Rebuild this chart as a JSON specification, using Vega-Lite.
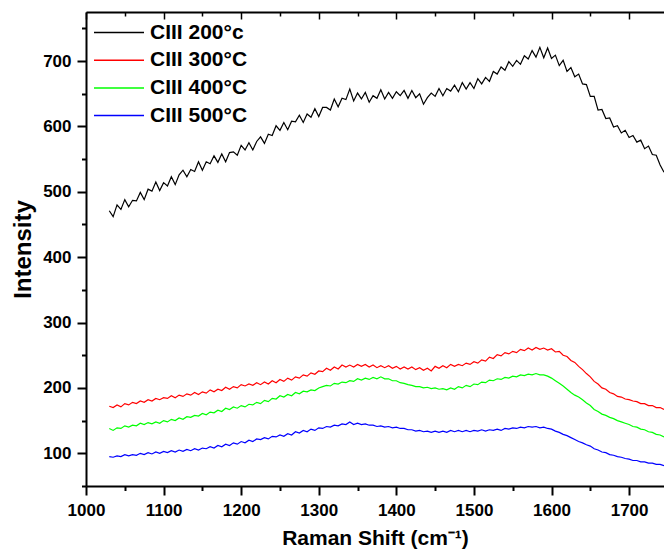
{
  "$schema": "https://vega.github.io/schema/vega-lite/v6.json",
  "width": 578,
  "height": 474,
  "autosize": "none",
  "padding": {"left": 86, "top": 12, "right": 0, "bottom": 65},
  "background": "white",
  "config": {"view": {"stroke": null}, "font": "Liberation Sans"},
  "data": {"values": [
    {"x":1030,"s200":471,"s300":172,"s400":138,"s500":95},
    {"x":1035,"s200":462,"s300":170,"s400":135,"s500":94},
    {"x":1040,"s200":480,"s300":174,"s400":139,"s500":96},
    {"x":1045,"s200":473,"s300":171,"s400":138,"s500":95},
    {"x":1050,"s200":488,"s300":176,"s400":142,"s500":98},
    {"x":1055,"s200":477,"s300":174,"s400":140,"s500":96},
    {"x":1060,"s200":487,"s300":178,"s400":143,"s500":98},
    {"x":1065,"s200":486,"s300":176,"s400":142,"s500":97},
    {"x":1070,"s200":499,"s300":180,"s400":146,"s500":100},
    {"x":1075,"s200":488,"s300":178,"s400":144,"s500":98},
    {"x":1080,"s200":504,"s300":182,"s400":147,"s500":101},
    {"x":1085,"s200":501,"s300":180,"s400":145,"s500":99},
    {"x":1090,"s200":515,"s300":184,"s400":148,"s500":102},
    {"x":1095,"s200":502,"s300":182,"s400":146,"s500":100},
    {"x":1100,"s200":514,"s300":185,"s400":150,"s500":103},
    {"x":1105,"s200":509,"s300":184,"s400":148,"s500":101},
    {"x":1110,"s200":523,"s300":188,"s400":152,"s500":104},
    {"x":1115,"s200":511,"s300":185,"s400":150,"s500":102},
    {"x":1120,"s200":526,"s300":189,"s400":154,"s500":105},
    {"x":1125,"s200":533,"s300":187,"s400":152,"s500":103},
    {"x":1130,"s200":523,"s300":191,"s400":156,"s500":106},
    {"x":1135,"s200":534,"s300":189,"s400":155,"s500":104},
    {"x":1140,"s200":531,"s300":193,"s400":158,"s500":107},
    {"x":1145,"s200":546,"s300":190,"s400":157,"s500":105},
    {"x":1150,"s200":533,"s300":194,"s400":161,"s500":108},
    {"x":1155,"s200":546,"s300":192,"s400":159,"s500":107},
    {"x":1160,"s200":543,"s300":197,"s400":163,"s500":110},
    {"x":1165,"s200":555,"s300":194,"s400":162,"s500":108},
    {"x":1170,"s200":545,"s300":198,"s400":166,"s500":112},
    {"x":1175,"s200":558,"s300":196,"s400":164,"s500":110},
    {"x":1180,"s200":546,"s300":201,"s400":169,"s500":114},
    {"x":1185,"s200":560,"s300":198,"s400":167,"s500":112},
    {"x":1190,"s200":561,"s300":202,"s400":171,"s500":116},
    {"x":1195,"s200":556,"s300":200,"s400":169,"s500":114},
    {"x":1200,"s200":571,"s300":205,"s400":173,"s500":118},
    {"x":1205,"s200":564,"s300":203,"s400":171,"s500":116},
    {"x":1210,"s200":575,"s300":206,"s400":175,"s500":120},
    {"x":1215,"s200":564,"s300":204,"s400":174,"s500":118},
    {"x":1220,"s200":577,"s300":208,"s400":178,"s500":122},
    {"x":1225,"s200":584,"s300":205,"s400":176,"s500":121},
    {"x":1230,"s200":574,"s300":209,"s400":181,"s500":124},
    {"x":1235,"s200":588,"s300":206,"s400":179,"s500":122},
    {"x":1240,"s200":586,"s300":211,"s400":184,"s500":126},
    {"x":1245,"s200":601,"s300":208,"s400":183,"s500":125},
    {"x":1250,"s200":594,"s300":213,"s400":188,"s500":128},
    {"x":1255,"s200":606,"s300":210,"s400":186,"s500":126},
    {"x":1260,"s200":595,"s300":215,"s400":190,"s500":130},
    {"x":1265,"s200":608,"s300":212,"s400":188,"s500":128},
    {"x":1270,"s200":607,"s300":217,"s400":193,"s500":133},
    {"x":1275,"s200":617,"s300":215,"s400":191,"s500":131},
    {"x":1280,"s200":606,"s300":220,"s400":195,"s500":135},
    {"x":1285,"s200":619,"s300":218,"s400":194,"s500":133},
    {"x":1290,"s200":614,"s300":223,"s400":197,"s500":137},
    {"x":1295,"s200":627,"s300":221,"s400":196,"s500":135},
    {"x":1300,"s200":615,"s300":226,"s400":200,"s500":139},
    {"x":1305,"s200":629,"s300":225,"s400":202,"s500":138},
    {"x":1310,"s200":629,"s300":230,"s400":204,"s500":141},
    {"x":1315,"s200":625,"s300":227,"s400":203,"s500":140},
    {"x":1320,"s200":642,"s300":232,"s400":207,"s500":143},
    {"x":1325,"s200":630,"s300":229,"s400":206,"s500":142},
    {"x":1330,"s200":643,"s300":235,"s400":209,"s500":145},
    {"x":1335,"s200":641,"s300":232,"s400":208,"s500":144},
    {"x":1340,"s200":657,"s300":235,"s400":211,"s500":148},
    {"x":1345,"s200":639,"s300":232,"s400":210,"s500":144},
    {"x":1350,"s200":651,"s300":236,"s400":214,"s500":146},
    {"x":1355,"s200":642,"s300":233,"s400":212,"s500":144},
    {"x":1360,"s200":652,"s300":236,"s400":215,"s500":145},
    {"x":1365,"s200":637,"s300":232,"s400":213,"s500":143},
    {"x":1370,"s200":647,"s300":235,"s400":216,"s500":143},
    {"x":1375,"s200":643,"s300":231,"s400":214,"s500":141},
    {"x":1380,"s200":656,"s300":234,"s400":217,"s500":142},
    {"x":1385,"s200":642,"s300":231,"s400":214,"s500":140},
    {"x":1390,"s200":652,"s300":234,"s400":214,"s500":141},
    {"x":1395,"s200":643,"s300":230,"s400":211,"s500":139},
    {"x":1400,"s200":653,"s300":233,"s400":211,"s500":140},
    {"x":1405,"s200":647,"s300":229,"s400":208,"s500":138},
    {"x":1410,"s200":655,"s300":232,"s400":207,"s500":138},
    {"x":1415,"s200":643,"s300":229,"s400":205,"s500":136},
    {"x":1420,"s200":655,"s300":232,"s400":204,"s500":136},
    {"x":1425,"s200":644,"s300":228,"s400":202,"s500":134},
    {"x":1430,"s200":650,"s300":231,"s400":202,"s500":135},
    {"x":1435,"s200":634,"s300":227,"s400":200,"s500":133},
    {"x":1440,"s200":644,"s300":230,"s400":201,"s500":134},
    {"x":1445,"s200":651,"s300":226,"s400":199,"s500":132},
    {"x":1450,"s200":646,"s300":233,"s400":200,"s500":134},
    {"x":1455,"s200":658,"s300":230,"s400":198,"s500":132},
    {"x":1460,"s200":647,"s300":234,"s400":199,"s500":134},
    {"x":1465,"s200":658,"s300":231,"s400":197,"s500":132},
    {"x":1470,"s200":654,"s300":236,"s400":200,"s500":135},
    {"x":1475,"s200":663,"s300":233,"s400":198,"s500":133},
    {"x":1480,"s200":653,"s300":236,"s400":202,"s500":135},
    {"x":1485,"s200":667,"s300":234,"s400":200,"s500":133},
    {"x":1490,"s200":657,"s300":238,"s400":204,"s500":135},
    {"x":1495,"s200":667,"s300":236,"s400":202,"s500":133},
    {"x":1500,"s200":658,"s300":240,"s400":206,"s500":135},
    {"x":1505,"s200":673,"s300":238,"s400":205,"s500":134},
    {"x":1510,"s200":665,"s300":243,"s400":209,"s500":136},
    {"x":1515,"s200":675,"s300":241,"s400":208,"s500":134},
    {"x":1520,"s200":669,"s300":247,"s400":212,"s500":136},
    {"x":1525,"s200":684,"s300":245,"s400":211,"s500":135},
    {"x":1530,"s200":680,"s300":251,"s400":214,"s500":137},
    {"x":1535,"s200":691,"s300":249,"s400":213,"s500":135},
    {"x":1540,"s200":686,"s300":254,"s400":216,"s500":138},
    {"x":1545,"s200":699,"s300":252,"s400":215,"s500":137},
    {"x":1550,"s200":692,"s300":256,"s400":218,"s500":139},
    {"x":1555,"s200":701,"s300":254,"s400":217,"s500":138},
    {"x":1560,"s200":695,"s300":259,"s400":220,"s500":140},
    {"x":1565,"s200":708,"s300":257,"s400":219,"s500":139},
    {"x":1570,"s200":703,"s300":261,"s400":221,"s500":141},
    {"x":1575,"s200":716,"s300":258,"s400":220,"s500":140},
    {"x":1580,"s200":706,"s300":262,"s400":222,"s500":141},
    {"x":1585,"s200":721,"s300":259,"s400":220,"s500":139},
    {"x":1590,"s200":705,"s300":261,"s400":220,"s500":140},
    {"x":1595,"s200":720,"s300":258,"s400":218,"s500":138},
    {"x":1600,"s200":704,"s300":260,"s400":215,"s500":137},
    {"x":1605,"s200":709,"s300":255,"s400":211,"s500":134},
    {"x":1610,"s200":693,"s300":256,"s400":207,"s500":132},
    {"x":1615,"s200":701,"s300":250,"s400":203,"s500":129},
    {"x":1620,"s200":684,"s300":248,"s400":198,"s500":127},
    {"x":1625,"s200":690,"s300":242,"s400":193,"s500":124},
    {"x":1630,"s200":676,"s300":239,"s400":189,"s500":121},
    {"x":1635,"s200":680,"s300":233,"s400":186,"s500":118},
    {"x":1640,"s200":665,"s300":228,"s400":182,"s500":116},
    {"x":1645,"s200":664,"s300":222,"s400":177,"s500":113},
    {"x":1650,"s200":646,"s300":217,"s400":173,"s500":111},
    {"x":1655,"s200":646,"s300":210,"s400":167,"s500":107},
    {"x":1660,"s200":625,"s300":206,"s400":164,"s500":105},
    {"x":1665,"s200":626,"s300":200,"s400":160,"s500":102},
    {"x":1670,"s200":612,"s300":198,"s400":158,"s500":101},
    {"x":1675,"s200":613,"s300":193,"s400":155,"s500":98},
    {"x":1680,"s200":599,"s300":191,"s400":153,"s500":97},
    {"x":1685,"s200":601,"s300":187,"s400":150,"s500":95},
    {"x":1690,"s200":590,"s300":186,"s400":148,"s500":94},
    {"x":1695,"s200":594,"s300":183,"s400":146,"s500":92},
    {"x":1700,"s200":583,"s300":182,"s400":144,"s500":91},
    {"x":1705,"s200":586,"s300":180,"s400":141,"s500":89},
    {"x":1710,"s200":576,"s300":179,"s400":140,"s500":89},
    {"x":1715,"s200":579,"s300":176,"s400":137,"s500":87},
    {"x":1720,"s200":566,"s300":176,"s400":136,"s500":87},
    {"x":1725,"s200":570,"s300":173,"s400":133,"s500":85},
    {"x":1730,"s200":557,"s300":173,"s400":132,"s500":85},
    {"x":1735,"s200":556,"s300":170,"s400":129,"s500":83},
    {"x":1740,"s200":541,"s300":170,"s400":128,"s500":83},
    {"x":1745,"s200":530,"s300":167,"s400":125,"s500":81}
  ]},
  "transform": [{"fold": ["s200", "s300", "s400", "s500"], "as": ["series", "value"]}],
  "layer": [
    {
      "mark": {"type": "line", "strokeWidth": 1.2, "clip": true},
      "encoding": {
        "x": {
          "field": "x", "type": "quantitative",
          "scale": {"domain": [1000, 1745], "nice": false, "zero": false},
          "axis": {
            "orient": "bottom",
            "values": [1000,1050,1100,1150,1200,1250,1300,1350,1400,1450,1500,1550,1600,1650,1700],
            "format": "d",
            "labelExpr": "datum.value % 100 === 0 ? datum.label : ''",
            "tickSize": {"condition": {"test": "datum.value % 100 === 0", "value": 9}, "value": 4.5},
            "tickWidth": 2, "tickColor": "black",
            "domainWidth": 2, "domainColor": "black",
            "grid": false,
            "labelFontSize": 17, "labelFontWeight": "bold", "labelColor": "black", "labelPadding": 7,
            "labelFlush": false, "labelOverlap": false,
            "title": "Raman Shift (cm⁻¹)", "titleFontSize": 21, "titleFontWeight": "bold", "titleColor": "black", "titlePadding": 9
          }
        },
        "y": {
          "field": "value", "type": "quantitative",
          "scale": {"domain": [50, 775], "nice": false, "zero": false},
          "axis": {
            "values": [50,100,150,200,250,300,350,400,450,500,550,600,650,700,750],
            "format": "d",
            "labelExpr": "datum.value % 100 === 0 ? datum.label : ''",
            "tickSize": {"condition": {"test": "datum.value % 100 === 0", "value": 9}, "value": 4.5},
            "tickWidth": 2, "tickColor": "black",
            "domainWidth": 2, "domainColor": "black",
            "grid": false,
            "labelFontSize": 17, "labelFontWeight": "bold", "labelColor": "black", "labelPadding": 6,
            "labelOverlap": false,
            "title": "Intensity", "titleFontSize": 24, "titleFontWeight": "bold", "titleColor": "black", "titlePadding": 7
          }
        },
        "color": {
          "field": "series", "type": "nominal",
          "scale": {"domain": ["s200", "s300", "s400", "s500"], "range": ["#000000", "#ff0000", "#00ff00", "#0000ff"]},
          "legend": {
            "orient": "none", "legendX": 7, "legendY": 10,
            "title": null,
            "symbolType": "stroke", "symbolSize": 2500, "symbolStrokeWidth": 1.5,
            "clipHeight": 21,
            "labelExpr": "{'s200': 'CIII 200°c', 's300': 'CIII 300°C', 's400': 'CIII 400°C', 's500': 'CIII 500°C'}[datum.label]",
            "labelFontSize": 21, "labelFontWeight": "bold", "labelColor": "black", "labelOffset": 5,
            "rowPadding": 5.7
          }
        }
      }
    },
    {
      "mark": {"type": "rule", "opacity": 0},
      "encoding": {
        "x": {
          "field": "x", "type": "quantitative",
          "axis": {
            "orient": "top",
            "values": [1000,1050,1100,1150,1200,1250,1300,1350,1400,1450,1500,1550,1600,1650,1700],
            "labels": false, "title": null, "grid": false,
            "tickSize": {"condition": {"test": "datum.value % 100 === 0", "value": -7}, "value": -4},
            "tickWidth": 1.5, "tickColor": "black",
            "domainWidth": 2, "domainColor": "black"
          }
        }
      }
    }
  ],
  "resolve": {"axis": {"x": "independent"}}
}
